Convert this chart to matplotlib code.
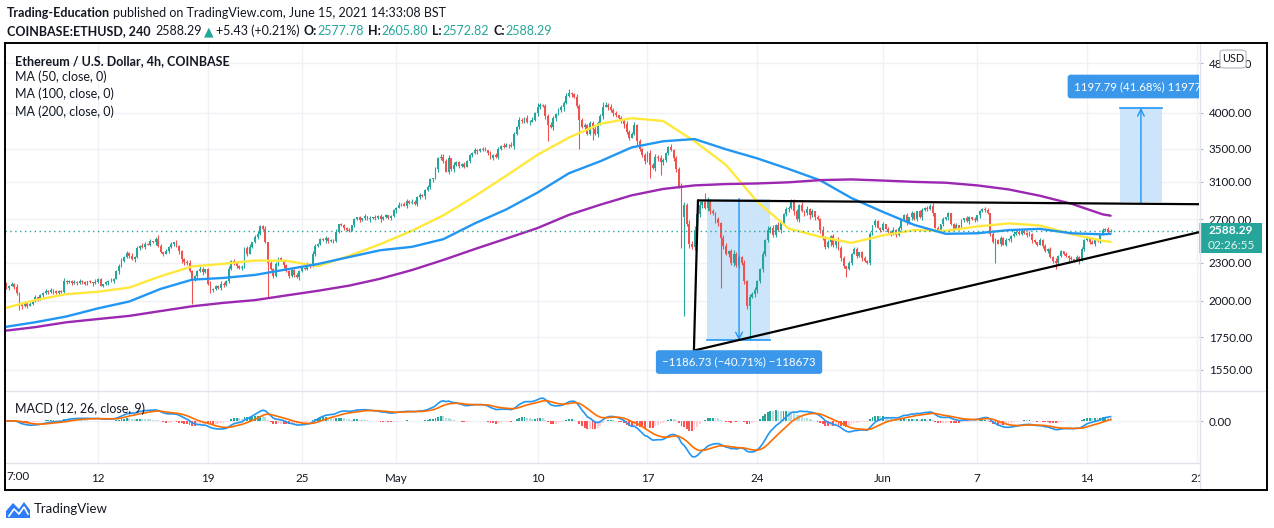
import numpy as np
import pandas as pd
import matplotlib
matplotlib.use("Agg")
import matplotlib.pyplot as plt
import matplotlib.dates as mdates
from matplotlib.patches import FancyBboxPatch, Rectangle, Polygon
from matplotlib.lines import Line2D
from matplotlib.ticker import NullLocator

plt.rcParams['font.family'] = ['Lato', 'DejaVu Sans']

# ---------------- data ----------------
FIRST_OPEN = 2120
CLOSE = [
    2110, 2125, 2098, 2115, 2130, 2105,
    2060, 1975, 1960, 1990, 1965, 1980,
    2000, 2025, 2015, 2040,
    2060, 2075, 2065, 2080, 2070, 2058, 2072, 2068,
    2155,
    2140, 2150, 2135, 2145, 2138, 2150, 2142, 2130, 2148, 2140, 2135, 2145,
    2165, 2115, 2125,
    2140, 2155, 2150, 2170,
    2230, 2275, 2320, 2350, 2385,
    2360, 2330, 2350,
    2430, 2450, 2440, 2470, 2460, 2490, 2480, 2515,
    2450, 2390, 2380, 2400,
    2440, 2465, 2480, 2450,
    2400, 2330, 2310, 2300,
    2230, 2160,
    2190, 2230, 2250, 2220, 2245,
    2130, 2085, 2090,
    2110, 2095, 2130, 2120, 2150,
    2250, 2315,
    2300, 2270, 2255, 2265,
    2430,
    2380, 2440, 2480, 2530, 2560,
    2630, 2610,
    2480, 2300, 2250, 2190,
    2290, 2340, 2320,
    2280, 2230, 2190, 2240, 2200, 2180,
    2230, 2260, 2250, 2290, 2270,
    2380, 2450, 2470,
    2510, 2500, 2520, 2490, 2500, 2495,
    2580, 2650, 2640,
    2620, 2595, 2590, 2640,
    2700, 2720, 2695, 2710, 2730, 2700, 2715,
    2720, 2710, 2735, 2700, 2725, 2740, 2715, 2730,
    2790, 2820, 2850, 2860, 2840,
    2890, 2870, 2880, 2860,
    2930, 2950, 2945,
    3010, 3040, 3130, 3140,
    3250, 3380, 3400,
    3350, 3220, 3380, 3250, 3300,
    3330, 3290, 3310, 3280,
    3350, 3420, 3450, 3480, 3470, 3500, 3490, 3480,
    3450, 3380, 3420, 3400,
    3500, 3540, 3530, 3550, 3545, 3540,
    3700, 3800,
    3900, 3880, 3925, 3860, 3870, 3900,
    4000, 4080, 4120, 4100,
    3950, 3820, 3800,
    3920, 3980, 4040, 4080, 4150,
    4250, 4300, 4280, 4240,
    4100, 3900, 3800,
    3820, 3700, 3850, 3760, 3700,
    3850, 3950, 4090, 4120,
    4080, 4040, 4000, 3960, 3920, 3880,
    3830, 3720, 3650, 3700,
    3820,
    3600, 3500, 3420, 3350,
    3450, 3300, 3260, 3400,
    3380, 3340, 3360,
    3450, 3520, 3480, 3380,
    3250, 3050, 2720, 2850, 2650, 2470, 2440,
    2600, 2750,
    2850, 2880, 2820, 2900, 2780,
    2760, 2700, 2660,
    2520, 2450, 2380,
    2400, 2300, 2380, 2280, 2350, 2300,
    2150, 1960, 2030,
    2050, 2080, 2150,
    2250, 2380, 2500,
    2600, 2620, 2550, 2640, 2600,
    2660, 2750, 2800, 2820,
    2880, 2780, 2700, 2850, 2780,
    2760, 2800, 2740, 2780, 2720, 2700,
    2600, 2520, 2440, 2480,
    2540, 2460, 2500, 2430,
    2340, 2270, 2250, 2300,
    2380, 2420, 2360, 2390, 2340, 2320,
    2300, 2560,
    2640, 2680, 2620, 2600, 2650, 2610,
    2580, 2560, 2600, 2550, 2620,
    2700, 2740, 2660, 2720, 2760,
    2700, 2780, 2720,
    2790, 2820, 2800, 2840, 2760,
    2620, 2600,
    2650, 2700, 2720, 2760,
    2650, 2610, 2640, 2620,
    2690, 2710, 2680, 2720, 2700, 2690, 2740, 2780,
    2800, 2790, 2760,
    2560, 2480,
    2500, 2470, 2520, 2460, 2500, 2510, 2540, 2560,
    2580, 2560, 2590, 2570, 2550, 2560,
    2500, 2480, 2460, 2500, 2450,
    2400, 2420, 2350, 2320, 2300,
    2360, 2400, 2380, 2360, 2340,
    2330, 2320, 2350, 2320,
    2420, 2500, 2520,
    2480, 2470, 2500, 2490,
    2560, 2600, 2610, 2577.78, 2588.29,
]
# wick lengths per candle, one digit each, in units of WICK_UNIT (fraction of price)
UPPER_WICK = "".join([
    "21312 13121 22131 21213 12213", "12121 31212 13121 21312 23121",
    "31213 21312 42131 21312 22312", "13212 31213 21312 12213 31242",
    "23121 31212 13121 21313 21212", "12131 22131 21213 12131 21212",
    "21312 21321 32132 13243 24132", "21312 13212 31213 21321 42132",
    "13231 42132 43123 24312 43231", "32423 13243 21324 32423 13242",
    "32431 24232 43253 42423 41323", "24323 42314 23242 13242 32412",
    "32423 13242 31324 23132 42312", "13212 31213 21312 13121 23132",
    "12312 13121 31212 31213 21312", "21312 31213 21312 12131 21312",
    "12131 21213 12131 21312 12121"]).replace(" ", "")
LOWER_WICK = "".join([
    "12131 23231 31213 12121 31212", "21213 12121 31212 13121 31212",
    "13121 31213 21312 12135 42131", "21312 13212 31213 21213 12131",
    "21312 12131 21213 12121 31213", "21312 13121 21312 13121 31213",
    "13121 31213 21412 31423 13241", "31213 21312 13121 31213 24132",
    "21312 42134 24312 42131 34242", "23142 31324 21342 31243 24231",
    "43242 31342 34253 42342 43253", "34243 42324 34243 24324 23242",
    "23242 31324 23142 32434 23242", "31213 21312 13212 31213 12131",
    "21312 13121 21312 13121 31213", "12131 21312 13121 21313 12131",
    "21312 12131 21312 12131 21212"]).replace(" ", "")
WICK_UNIT = 0.003
LOW_OVERRIDE = {7: 1935, 73: 1980, 80: 2055, 102: 2030, 209: 3600, 221: 3500,
                226: 3620, 248: 3150, 252: 3180, 260: 2430, 261: 1890, 275: 2100,
                286: 1730, 323: 2180, 380: 2300, 403: 2250, 412: 2290}
HIGH_OVERRIDE = {99: 2645, 205: 4150, 217: 4370, 230: 4160, 269: 2970, 303: 2910,
                 355: 2860, 376: 2830}
LAST_CANDLE = "2021-06-15 12:00"
LAST_OHLC = {"o": 2577.78, "h": 2605.80, "l": 2572.82, "c": 2588.29}

MA_DATES = list(pd.date_range("2021-04-06", "2021-06-15", freq="2D")) + [pd.Timestamp("2021-06-15 12:00")]
MA50 = [1945, 2005, 2050, 2068, 2100, 2190, 2270, 2292, 2320, 2318, 2272, 2360, 2465, 2589,
        2740, 2940, 3170, 3425, 3650, 3840, 3920, 3880, 3600, 3300,
        2880, 2610, 2532, 2476, 2545, 2596, 2588, 2630, 2660, 2640, 2558, 2495, 2485]
MA100 = [1815, 1848, 1888, 1945, 1995, 2090, 2162, 2176, 2200, 2245, 2290, 2350, 2410, 2440,
         2510, 2660, 2800, 2980, 3200, 3345, 3520, 3600, 3630, 3495,
         3380, 3250, 3118, 2920, 2775, 2645, 2560, 2565, 2595, 2607, 2565, 2555, 2560]
MA200 = [1790, 1815, 1848, 1870, 1892, 1926, 1960, 1985, 2005, 2040, 2075, 2115, 2170, 2240,
         2325, 2420, 2515, 2615, 2745, 2850, 2950, 3020, 3060, 3075,
         3082, 3095, 3120, 3128, 3115, 3100, 3090, 3060, 3015, 2945, 2860, 2750, 2737]

PRICE_TICKS = [4800, 4000, 3500, 3100, 2700, 2300, 2000, 1750, 1550]
DATE_TICKS = ["2021-04-12", "2021-04-19", "2021-04-25", "2021-05-01", "2021-05-10",
              "2021-05-17", "2021-05-24", "2021-06-01", "2021-06-07", "2021-06-14", "2021-06-21"]
DATE_LABELS = ["12", "19", "25", "May", "10", "17", "24", "Jun", "7", "14", "21"]

# drawings (time, price)
RESIST_LINE = [("2021-05-20 05:15", 2895), ("2021-06-21 03:00", 2855)]
WEDGE_SIDE = [("2021-05-20 05:15", 2895), ("2021-05-19 23:00", 1665)]
SUPPORT_LINE = [("2021-05-19 23:00", 1665), ("2021-06-21 03:00", 2575)]
DROP_RANGE = {"t0": "2021-05-20 19:00", "t1": "2021-05-24 19:10", "tm": "2021-05-22 20:00",
              "top": 2915.0, "bottom": 1728.27,
              "label": "\u22121186.73 (\u221240.71%) \u2212118673", "label_price": 1596}
RISE_RANGE = {"t0": "2021-06-16 02:25", "t1": "2021-06-18 18:30", "tm": "2021-06-17 10:20",
              "bottom": 2873.8, "top": 4071.6,
              "label": "1197.79 (41.68%) 119779", "label_price": 4405}

# ---------------- figure ----------------
W, H = 1274, 528
fig = plt.figure(figsize=(W / 100, H / 100), dpi=100)
fig.patch.set_facecolor("white")


def FX(x):
    return x / W


def FY(y):
    return 1 - y / H


TXT = "#131722"
UP, DN = "#26A69A", "#EF5350"
GRID = "#EFF1F5"
L, R, T, MB, BB = 5, 1199, 43, 391, 463
ax = fig.add_axes([FX(L), FY(MB), (R - L) / W, (MB - T) / H])
axm = fig.add_axes([FX(L), FY(BB), (R - L) / W, (BB - MB) / H], sharex=ax)

N = len(CLOSE)
t_end = mdates.date2num(pd.Timestamp(LAST_CANDLE))
tx = t_end - (N - 1 - np.arange(N)) / 6.0
close = np.array(CLOSE, float)
open_ = np.concatenate([[FIRST_OPEN], close[:-1]])
open_[-1] = LAST_OHLC["o"]
body_hi = np.maximum(open_, close)
body_lo = np.minimum(open_, close)
upw = np.array([int(c) for c in UPPER_WICK[:N]]) * WICK_UNIT
low_w = np.array([int(c) for c in LOWER_WICK[:N]]) * WICK_UNIT
high = body_hi * (1 + upw)
low = body_lo * (1 - low_w)
for i, v in HIGH_OVERRIDE.items():
    high[i] = max(v, body_hi[i])
for i, v in LOW_OVERRIDE.items():
    low[i] = min(v, body_lo[i])
high[-1], low[-1] = LAST_OHLC["h"], LAST_OHLC["l"]
cols = np.where(close >= open_, UP, DN)
heights = np.maximum(body_hi - body_lo, body_lo * 0.0012)

ax.vlines(tx, low, high, colors=cols, lw=0.8, zorder=2)
ax.bar(tx, heights, bottom=body_lo, width=0.12, color=cols, lw=0, zorder=3)

mx = mdates.date2num(MA_DATES)
ax.plot(mx, MA50, color="#FFE83B", lw=1.7, zorder=4, solid_capstyle="round")
ax.plot(mx, MA100, color="#2196F3", lw=1.7, zorder=4, solid_capstyle="round")
ax.plot(mx, MA200, color="#9C27B0", lw=1.7, zorder=4, solid_capstyle="round")

ax.axhline(LAST_OHLC["c"], color=UP, lw=1.0, ls=(0, (1, 2.5)), zorder=5)


def dn(s):
    return mdates.date2num(pd.Timestamp(s))


for seg in (RESIST_LINE, WEDGE_SIDE, SUPPORT_LINE):
    ax.plot([dn(seg[0][0]), dn(seg[1][0])], [seg[0][1], seg[1][1]], color="black", lw=1.6,
            zorder=7, solid_capstyle="round")

BLUE = "#2196F3"
for rng, head_up in ((DROP_RANGE, False), (RISE_RANGE, True)):
    x0, x1, xm = dn(rng["t0"]), dn(rng["t1"]), dn(rng["tm"])
    ax.fill_between([x0, x1], rng["bottom"], rng["top"], color="#C5E1FA", alpha=0.85,
                    lw=0, zorder=1.5)
    edge = rng["top"] if head_up else rng["bottom"]
    start = rng["bottom"] if head_up else rng["top"]
    ax.plot([x0, x1], [edge, edge], color=BLUE, lw=1.2, zorder=6)
    ax.annotate("", xy=(xm, edge), xytext=(xm, start),
                arrowprops=dict(arrowstyle="->", color=BLUE, lw=1.0, shrinkA=0, shrinkB=0,
                                mutation_scale=12), zorder=6)
    ax.text(xm, rng["label_price"], rng["label"], color="white", fontsize=8.3,
            ha="center", va="center", zorder=9, clip_on=True,
            bbox=dict(boxstyle="round,pad=0.55,rounding_size=0.25", fc="#3A97EA", ec="none"))

# axes formatting
xl = (dn("2021-04-12") - 5.92, dn("2021-04-12") + 70.13)
ax.set_xlim(*xl)
ax.set_yscale("log")
ax.set_ylim(1434.5, 5171)
ax.set_yticks(PRICE_TICKS, labels=[f"{v:.2f}" for v in PRICE_TICKS])
ax.yaxis.set_minor_locator(NullLocator())
ax.yaxis.tick_right()
ax.tick_params(axis="y", which="major", length=3, width=0.8, color="#B2B5BE", pad=4,
               labelsize=8.4, labelcolor=TXT)
ax.tick_params(axis="x", length=0, labelbottom=False)
ax.set_xticks([dn(d) for d in DATE_TICKS])
ax.grid(True, color=GRID, lw=1.0)
ax.set_axisbelow(True)
for s in ax.spines.values():
    s.set_visible(False)

# MACD
sc = pd.Series(close)
macd = sc.ewm(span=12, adjust=False).mean() - sc.ewm(span=26, adjust=False).mean()
sig = macd.ewm(span=9, adjust=False).mean()
hist = (macd - sig).values
prev = np.concatenate([[0.0], hist[:-1]])
hcol = np.where(hist >= 0, np.where(hist >= prev, "#26A69A", "#B2DFDB"),
                np.where(hist > prev, "#FFCDD2", "#FF5252"))
axm.bar(tx, hist, width=0.12, color=hcol, lw=0, zorder=2)
axm.plot(tx, macd.values, color="#2196F3", lw=1.2, zorder=3)
axm.plot(tx, sig.values, color="#FF6D00", lw=1.2, zorder=3)
m = min(macd.min(), sig.min())
axm.set_ylim(m * 42 / 36, -m * 30 / 36)
axm.set_yticks([0], labels=["0.00"])
axm.yaxis.tick_right()
axm.tick_params(axis="y", length=3, width=0.8, color="#B2B5BE", pad=4, labelsize=8.4,
                labelcolor=TXT)
axm.set_xticks([dn(d) for d in DATE_TICKS], labels=DATE_LABELS)
axm.tick_params(axis="x", length=0, pad=7, labelsize=8.4, labelcolor=TXT)
axm.grid(True, color=GRID, lw=1.0)
axm.set_axisbelow(True)
for s in axm.spines.values():
    s.set_visible(False)
axm.set_xlim(*xl)

# ---------------- figure decorations ----------------
def fline(x0, y0, x1, y1, color, lw):
    fig.lines.append(Line2D([FX(x0), FX(x1)], [FY(y0), FY(y1)], transform=fig.transFigure,
                            color=color, lw=lw, zorder=4))


def fbox(x0, y0, x1, y1, fc, ec="none", round_=0.0, lw=0.8):
    p = FancyBboxPatch((FX(x0), FY(y1)), FX(x1) - FX(x0), FY(y0) - FY(y1),
                       boxstyle=f"round,pad=0,rounding_size={round_}", transform=fig.transFigure,
                       fc=fc, ec=ec, lw=lw, zorder=2)
    fig.patches.append(p)


# clip area right of time axis
fig.patches.append(Rectangle((FX(1200), FY(489)), FX(1266) - FX(1200), FY(464) - FY(489),
                             transform=fig.transFigure, fc="white", ec="none", zorder=1))
fline(1199.5, 43, 1199.5, 490, "#E0E3EB", 1.0)
fline(5, 391, 1267, 391, "#E0E3EB", 1.0)
fline(5, 463, 1199.5, 463, "#E0E3EB", 1.0)
for (a, b, c, d) in ((5, 43, 1267, 43), (5, 490, 1267, 490), (5, 43, 5, 490), (1267, 43, 1267, 490)):
    fline(a, b, c, d, "black", 1.4)

# last price label
fbox(1199.5, 223, 1262, 253, UP)
fig.text(FX(1208), FY(231), "2588.29", color="white", fontsize=8.6, ha="left", va="center",
         fontweight="bold", zorder=5)
fig.text(FX(1208), FY(246), "02:26:55", color="#E6F5F3", fontsize=8.6, ha="left", va="center",
         zorder=5)
# USD badge
fbox(1220, 50, 1246, 68, "white", ec="#B2B5BE", round_=0.004)
fig.text(FX(1233), FY(59), "USD", color=TXT, fontsize=7.8, ha="center", va="center", zorder=5)

renderer = fig.canvas.get_renderer()


def pieces(x, y, parts, size):
    for text, color, weight, gap in parts:
        t = fig.text(FX(x), FY(y), text, color=color, fontsize=size, fontweight=weight,
                     ha="left", va="center", zorder=5)
        x += t.get_window_extent(renderer=renderer).width + gap


SP = 3.3
pieces(7, 13, [("Trading-Education", TXT, "bold", SP),
               ("published on TradingView.com, June 15, 2021 14:33:08 BST", TXT, "normal", 0)], 9.0)
pieces(7, 31, [("COINBASE:ETHUSD, 240", TXT, "bold", SP + 1),
               ("2588.29", TXT, "normal", SP - 1), ("\u25B2", UP, "normal", SP - 1),
               ("+5.43 (+0.21%)", TXT, "normal", SP + 1),
               ("O:", TXT, "bold", 0.5), ("2577.78", UP, "normal", SP + 1),
               ("H:", TXT, "bold", 0.5), ("2605.80", UP, "normal", SP + 1),
               ("L:", TXT, "bold", 0.5), ("2572.82", UP, "normal", SP + 1),
               ("C:", TXT, "bold", 0.5), ("2588.29", UP, "normal", 0)], 9.0)

fig.text(FX(15), FY(61), "Ethereum / U.S. Dollar, 4h, COINBASE", color=TXT, fontsize=9.0,
         fontweight="bold", ha="left", va="center", zorder=5)
for yy, s in ((77, "MA (50, close, 0)"), (94, "MA (100, close, 0)"), (112, "MA (200, close, 0)")):
    fig.text(FX(15), FY(yy), s, color=TXT, fontsize=9.0, ha="left", va="center", zorder=5)
fig.text(FX(15), FY(409), "MACD (12, 26, close, 9)", color=TXT, fontsize=9.0, ha="left",
         va="center", zorder=5)
fig.text(FX(6.5), FY(477), "7:00", color=TXT, fontsize=8.4, ha="left", va="center", zorder=5)

# TradingView logo
fig.patches.append(Polygon([(FX(6), FY(518)), (FX(6), FY(511)), (FX(13), FY(503)),
                            (FX(19), FY(509)), (FX(24), FY(502)), (FX(30), FY(510)),
                            (FX(30), FY(518))], closed=True, transform=fig.transFigure,
                           fc="#2E7CF6", ec="none", zorder=2))
fig.lines.append(Line2D([FX(9), FX(14), FX(19), FX(24), FX(28)],
                        [FY(516), FY(509), FY(514), FY(507), FY(514)], transform=fig.transFigure,
                        color="white", lw=1.2, zorder=3))
fig.text(FX(34), FY(509), "TradingView", color=TXT, fontsize=9.5, ha="left", va="center", zorder=5)

fig.savefig("out.png", dpi=100, facecolor="white")
